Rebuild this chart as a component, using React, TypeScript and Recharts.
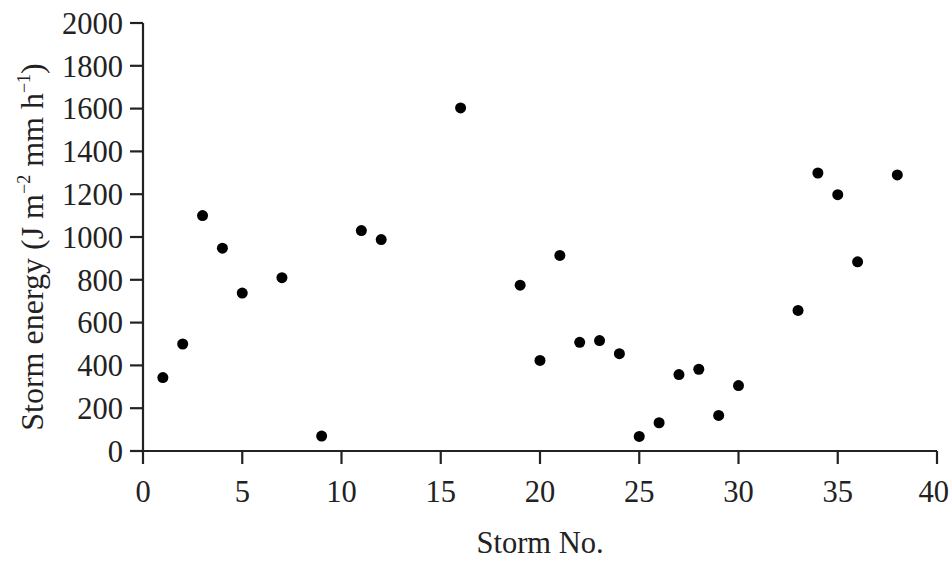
import React from 'react';
import { ScatterChart, Scatter, XAxis, YAxis } from 'recharts';

// storm number and energy
const stormNo = [1, 2, 3, 4, 5, 7, 9, 11, 12, 16, 19, 20, 21, 22, 23, 24, 25, 26, 27, 28, 29, 30, 33, 34, 35, 36, 38];
const energy = [343, 500, 1100, 948, 738, 810, 70, 1030, 988, 1603, 775, 423, 914, 508, 516, 455, 68, 132, 357, 382, 166, 306, 657, 1299, 1198, 884, 1290];

const xTicks = [0, 5, 10, 15, 20, 25, 30, 35, 40];
const yTicks = [0, 200, 400, 600, 800, 1000, 1200, 1400, 1600, 1800, 2000];

const points = stormNo.map((n, i) => ({ storm: n, energy: energy[i] }));

const FONT = '"Liberation Serif", "Times New Roman", serif';
const INK = '#222';

const Dot = (props: any) => <circle cx={props.cx} cy={props.cy} r={5.5} fill="#000" />;

const YLabel = (props: any) => {
    const vb = props.viewBox || { x: 0, y: 23, width: 143, height: 428 };
    const x = 43;
    const y = vb.y + vb.height / 2 + 10;
    return (
        <text
            x={x}
            y={y}
            transform={`rotate(-90, ${x}, ${y})`}
            textAnchor="middle"
            fontFamily={FONT}
            fontSize={32}
            fill={INK}
        >
            Storm energy (J m
            <tspan dy={-13} fontSize={18}>−2</tspan>
            <tspan dy={13}> mm h</tspan>
            <tspan dy={-13} fontSize={18}>−1</tspan>
            <tspan dy={13}>)</tspan>
        </text>
    );
};

const XLabel = (props: any) => {
    const vb = props.viewBox || { x: 143, y: 451, width: 794, height: 111 };
    return (
        <text
            x={vb.x + vb.width / 2}
            y={553}
            textAnchor="middle"
            fontFamily={FONT}
            fontSize={30.5}
            fill={INK}
        >
            Storm No.
        </text>
    );
};

const App = () => {
    return (
        <div style={{ position: 'absolute', left: 0, top: 0, width: 949, height: 562, background: '#fff' }}>
            <ScatterChart width={949} height={562} margin={{ top: 23, right: 12, bottom: 0, left: 0 }}>
                <XAxis
                    type="number"
                    dataKey="storm"
                    domain={[0, 40]}
                    ticks={xTicks}
                    height={111}
                    tickSize={13}
                    tickMargin={16}
                    stroke={INK}
                    strokeWidth={2.2}
                    tick={{ fill: INK, fontFamily: FONT, fontSize: 30.5 }}
                    label={<XLabel />}
                />
                <YAxis
                    type="number"
                    dataKey="energy"
                    domain={[0, 2000]}
                    ticks={yTicks}
                    width={143}
                    tickSize={13}
                    tickMargin={7}
                    stroke={INK}
                    strokeWidth={2.2}
                    tick={{ fill: INK, fontFamily: FONT, fontSize: 30.5 }}
                    label={<YLabel />}
                />
                <Scatter data={points} shape={<Dot />} isAnimationActive={false} />
            </ScatterChart>
        </div>
    );
};

export default App;
